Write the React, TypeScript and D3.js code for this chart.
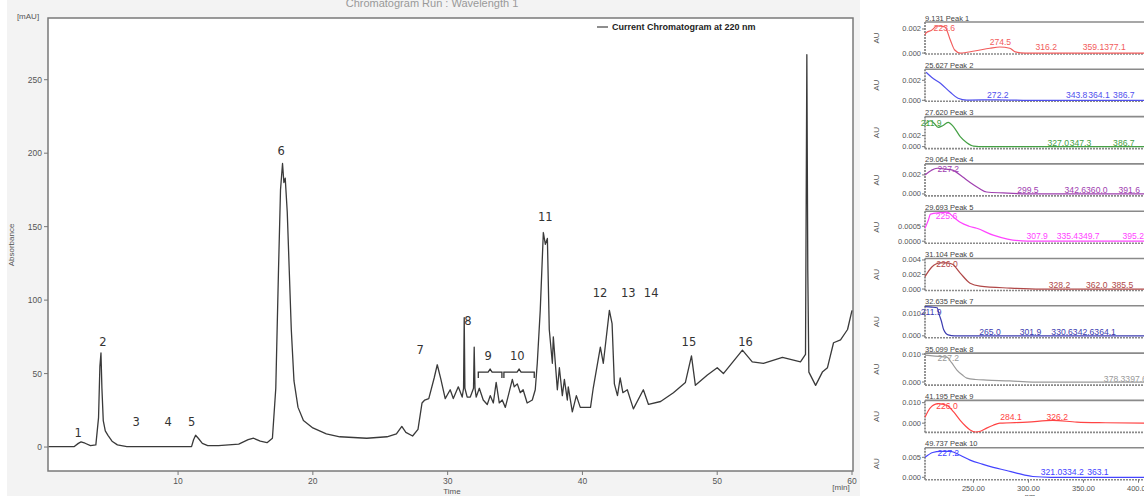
import React from 'react';
import * as d3 from 'd3';

// chromatogram at 220 nm, [time min, mAU]
const chromatogram: [number, number][] = [
  [0.4, 0.3], [2.3, 0.3], [2.6, 2.5], [2.8, 3.5], [3.1, 2.6], [3.5, 1], [3.9, 1.5],
  [4.1, 20], [4.2, 55], [4.28, 64], [4.35, 40], [4.45, 18], [4.6, 11], [4.8, 8],
  [5.1, 4], [5.5, 1.5], [6.2, 0.3], [11.0, 0.3], [11.15, 5], [11.3, 8], [11.5, 6],
  [11.8, 2.5], [12.2, 1], [13, 1], [14.5, 2], [15.2, 5], [15.6, 6], [16.1, 4],
  [16.6, 3], [17.0, 6], [17.25, 40], [17.45, 120], [17.6, 175], [17.75, 193],
  [17.85, 180], [17.95, 183], [18.1, 160], [18.25, 120], [18.4, 80], [18.6, 45],
  [18.9, 27], [19.3, 18], [20.0, 13], [21.0, 9], [22, 7], [24, 6], [25.5, 7],
  [26.2, 9], [26.6, 14], [26.9, 10], [27.4, 7.5], [27.8, 12], [28.1, 30], [28.3, 32],
  [28.6, 33], [29.0, 47], [29.23, 56], [29.5, 46], [29.82, 33], [30.19, 39],
  [30.42, 33], [30.79, 41], [31.08, 34], [31.18, 40], [31.23, 88], [31.28, 40],
  [31.45, 34], [31.68, 34], [31.92, 40], [31.97, 68], [32.03, 40], [32.12, 34],
  [32.35, 40], [32.64, 32], [32.94, 29], [33.16, 35], [33.39, 30], [33.6, 44],
  [33.83, 30], [34.05, 32], [34.28, 27], [34.5, 35], [34.8, 46], [34.94, 41],
  [35.17, 43], [35.39, 37], [35.6, 39], [35.9, 30], [36.28, 32], [36.5, 39],
  [36.65, 57], [36.87, 93], [37.1, 146], [37.25, 138], [37.4, 142], [37.54, 80],
  [37.77, 57], [37.84, 75], [38.14, 39], [38.29, 54], [38.51, 35], [38.66, 46],
  [38.88, 32], [38.95, 41], [39.25, 24], [39.55, 35], [39.84, 27], [40.6, 27],
  [40.8, 40], [41.33, 68], [41.55, 57], [42.0, 93], [42.2, 84], [42.37, 43],
  [42.6, 35], [42.8, 47], [43.0, 37], [43.33, 39], [43.78, 26], [44.52, 39],
  [44.9, 29], [45.8, 31], [46.75, 37], [47.64, 44], [48.09, 62], [48.38, 42],
  [49.27, 49], [50.0, 54], [50.46, 50], [51.87, 66], [52.6, 58], [53.43, 57],
  [54.84, 61], [56.18, 58], [56.55, 63], [56.65, 267], [56.72, 120], [56.8, 51],
  [57.3, 42], [57.8, 51], [58.18, 54], [58.63, 71], [59.15, 73], [59.67, 80], [60, 93],
];

const yTicks = [0, 50, 100, 150, 200, 250];
const xTicks = [10, 20, 30, 40, 50, 60];

// peak number labels, placed in data units
const peakNames = ['1', '2', '3', '4', '5', '6', '7', '8', '9', '10', '11', '12', '13', '14', '15', '16'];
const peakLabelTimes = [2.58, 4.43, 6.9, 9.26, 11.0, 17.65, 27.97, 31.5, 33.0, 35.17, 37.25, 41.3, 43.4, 45.1, 47.9, 52.1];
const peakLabelLevels = [7, 69, 14, 14, 14, 199, 63, 83, 59, 59, 154, 102, 102, 102, 69, 69];

// brace grouping peaks 9 and 10
const braceBounds = [32.2, 34.1, 36.5];
const braceLevel = 51;

// UV spectra of the peaks, [nm, AU]
const specTitles = ['9.131 Peak 1', '25.627 Peak 2', '27.620 Peak 3', '29.064 Peak 4', '29.693 Peak 5',
  '31.104 Peak 6', '32.635 Peak 7', '35.099 Peak 8', '41.195 Peak 9', '49.737 Peak 10'];
const specColors = ['#f25c5c', '#5050ee', '#44a044', '#a040b0', '#ff44ff',
  '#b04848', '#3c3cb0', '#9a9a9a', '#ff4444', '#4444ff'];
const specDomains: [number, number][] = [
  [-0.00008, 0.00258], [-0.0001, 0.0031], [-0.00036, 0.00545], [-0.00021, 0.00316], [-0.000067, 0.001],
  [-0.0002, 0.0042], [-0.0009, 0.0136], [-0.0011, 0.01036], [-0.0045, 0.0111], [-0.0006, 0.0074],
];
const specTicks = [[0, 0.002], [0, 0.002], [0, 0.002], [0, 0.002], [0, 0.0005],
  [0, 0.002, 0.004], [0, 0.01], [0, 0.01], [0, 0.01], [0, 0.005]];
const specTickFormats = ['.3f', '.3f', '.3f', '.3f', '.4f', '.3f', '.3f', '.3f', '.3f', '.3f'];

const spec1: [number, number][] = [[206, 0.0015], [207, 0.00167], [212, 0.0019], [217, 0.00225], [224, 0.00217], [229, 0.00108], [233, 0.00025], [238, 0], [251, 0.00017], [265, 0.0004], [274, 0.0005], [283, 0.0004], [288, 0.0001], [297, 0], [405, 0]];
const spec2: [number, number][] = [[207, 0.0028], [212, 0.0023], [220, 0.0017], [229, 0.0008], [236, 0.0002], [244, 0.00002], [272, 0.00005], [300, 0], [405, 0]];
const spec3: [number, number][] = [[206, 0.004], [211, 0.0047], [214, 0.0043], [218, 0.0035], [222, 0.0038], [227, 0.0044], [232, 0.0036], [238, 0.0018], [244, 0.0007], [250, 0.0001], [260, 0], [405, 0]];
const spec4: [number, number][] = [[206, 0.002], [212, 0.0025], [217, 0.0027], [225, 0.0026], [231, 0.0025], [240, 0.0018], [247, 0.0012], [255, 0.0006], [262, 0.0002], [277, 0.0001], [300, 0], [405, 0]];
const spec5: [number, number][] = [[206, 0.00043], [209, 0.0007], [211, 0.0009], [220, 0.00095], [226, 0.00097], [232, 0.0008], [238, 0.00063], [246, 0.0005], [253, 0.00043], [268, 0.0002], [281, 0.00007], [299, 0], [405, 0]];
const spec6: [number, number][] = [[206, 0.0017], [212, 0.003], [220, 0.0036], [226, 0.0036], [231, 0.0034], [238, 0.0022], [247, 0.0008], [256, 0.0004], [283, 0.00014], [311, 0], [405, 0]];
const spec7: [number, number][] = [[206, 0.0132], [212, 0.013], [217, 0.0127], [219, 0.0095], [221, 0.0065], [223, 0.0027], [227, 0.0004], [233, 0], [405, 0]];
const spec8: [number, number][] = [[206, 0.0096], [215, 0.0093], [226, 0.0089], [230, 0.007], [235, 0.0043], [240, 0.0025], [244, 0.0014], [252, 0.0009], [262, 0.0007], [283, 0.0004], [304, 0], [405, 0]];
const spec9: [number, number][] = [[206, 0.0029], [211, 0.0076], [218, 0.0095], [226, 0.0086], [232, 0.0055], [238, 0.0014], [243, -0.0015], [247, -0.0033], [252, -0.0043], [257, -0.0038], [262, -0.0024], [268, -0.001], [274, 0], [299, 0.0005], [322, 0.0014], [344, 0.0005], [370, 0.0002], [405, 0]];
const spec10: [number, number][] = [[206, 0.005], [213, 0.0062], [220, 0.0065], [229, 0.0065], [238, 0.0055], [247, 0.0043], [258, 0.0033], [268, 0.0025], [280, 0.0017], [290, 0.001], [304, 0.0002], [320, 0], [405, 0]];
const specSeries = [spec1, spec2, spec3, spec4, spec5, spec6, spec7, spec8, spec9, spec10];

// wavelength labels: [nm, AU at text baseline, text]
const specLabels: [number, number, string][][] = [
  [[223.6, 0.00183, '223.6'], [274.5, 0.00067, '274.5'], [316.2, 0.00025, '316.2'], [359.1, 0.00025, '359.1'], [377.1, 0.00025, '377.1']],
  [[272.2, 0.0002, '272.2'], [343.8, 0.0002, '343.8'], [364.1, 0.0002, '364.1'], [386.7, 0.0002, '386.7']],
  [[211.9, 0.0038, '211.9'], [327.0, 0.00018, '327.0'], [347.3, 0.00018, '347.3'], [386.7, 0.00018, '386.7']],
  [[227.2, 0.0023, '227.2'], [299.5, 0.0001, '299.5'], [342.6, 0.0001, '342.6'], [360.0, 0.0001, '360.0'], [391.6, 0.0001, '391.6']],
  [[225.6, 0.00073, '225.6'], [307.9, 0.000067, '307.9'], [335.4, 0.000067, '335.4'], [349.7, 0.000067, '349.7'], [395.2, 0.000067, '395.2']],
  [[226.0, 0.003, '226.0'], [328.2, 0.00014, '328.2'], [362.0, 0.00014, '362.0'], [385.5, 0.00014, '385.5']],
  [[211.9, 0.0095, '211.9'], [265.0, 0.00045, '265.0'], [301.9, 0.00045, '301.9'], [330.6, 0.00045, '330.6'], [342.6, 0.00045, '342.6'], [364.1, 0.00045, '364.1']],
  [[227.2, 0.0075, '227.2'], [378.3, 0, '378.3'], [397.6, 0, '397.6']],
  [[226.0, 0.0067, '226.0'], [284.1, 0.0014, '284.1'], [326.2, 0.0014, '326.2']],
  [[227.2, 0.0054, '227.2'], [321.0, 0.0006, '321.0'], [334.2, 0.0006, '334.2'], [363.1, 0.0006, '363.1']],
];
const nmTicks = [250, 300, 350, 400];

const FONT = 'Liberation Sans, Arial, sans-serif';
const LABEL_SIZE = 8.6;

// push labels right so they sit side by side instead of on top of each other
function layoutLabels(items: [number, number, string][], sx: (v: number) => number) {
  let end = -Infinity;
  return items.map(([w, v, txt]) => {
    const width = txt.length * LABEL_SIZE * 0.5;
    const start = Math.max(sx(w) - width / 2, end);
    end = start + width;
    return { start, v, txt, w };
  });
}

function App() {
  const left = 48, right = 852, top = 18, bottom = 471;
  const x = d3.scaleLinear().domain([0.35, 60]).range([left, right]);
  const y = d3.scaleLinear().domain([-16.3, 292]).range([bottom, top]);
  const line = d3.line<[number, number]>().x((d) => x(d[0])).y((d) => y(d[1]));

  const by = y(braceLevel);
  const bracePath = braceBounds.slice(0, -1).map((b, i) => {
    const x0 = x(b), x1 = x(braceBounds[i + 1]), xm = (x0 + x1) / 2;
    return `M${x0 + 1},${by + 6} L${x0 + 1},${by} L${xm - 2},${by} L${xm},${by - 3} L${xm + 2},${by} L${x1 - 1},${by} L${x1 - 1},${by + 6}`;
  }).join(' ');

  // spectra panels
  const panelLeft = 925, panelRight = 1144, panelH = 32, panelStep = 47.3, panelTop0 = 22;
  const nm = d3.scaleLinear().domain([206, 405]).range([panelLeft, panelRight]);

  return (
    <div style={{ position: 'absolute', left: 0, top: 0 }}>
      <svg width={1144} height={496} style={{ display: 'block', background: '#fff' }} fontFamily={FONT}>
        <rect x={7} y={0} width={853} height={496} fill="#f3f3f3" />
        <rect x={left} y={top} width={853 - left} height={bottom - top} fill="#fff" stroke="#7a7a7a" strokeWidth={1.5} />
        <text x={432} y={7} textAnchor="middle" fontSize={11} fill="#999">Chromatogram Run : Wavelength 1</text>

        {yTicks.map((t) => (
          <g key={t}>
            <line x1={left - 4} x2={left} y1={y(t)} y2={y(t)} stroke="#777" />
            <text x={left - 6} y={y(t) + 3} textAnchor="end" fontSize={8.5} fill="#555">{t}</text>
          </g>
        ))}
        {xTicks.map((t) => (
          <g key={t}>
            <line x1={x(t)} x2={x(t)} y1={bottom} y2={bottom + 4} stroke="#777" />
            <text x={x(t)} y={bottom + 13} textAnchor="middle" fontSize={8.5} fill="#555">{t}</text>
          </g>
        ))}
        <text x={28} y={19} textAnchor="middle" fontSize={8} fill="#555">[mAU]</text>
        <text transform="translate(14,245) rotate(-90)" textAnchor="middle" fontSize={8} fill="#555">Absorbance</text>
        <text x={452} y={494} textAnchor="middle" fontSize={8} fill="#555">Time</text>
        <text x={841} y={490} textAnchor="middle" fontSize={8} fill="#555">[min]</text>

        <line x1={597} x2={608} y1={27} y2={27} stroke="#444" strokeWidth={1.2} />
        <text x={612} y={30} fontSize={9} fontWeight="bold" fill="#222">Current Chromatogram at 220 nm</text>

        <path d={line(chromatogram) ?? ''} fill="none" stroke="#3a3a3a" strokeWidth={1.3} strokeLinejoin="round" />
        <path d={bracePath} fill="none" stroke="#333" strokeWidth={1.3} />

        {peakNames.map((p, i) => (
          <text key={p} x={x(peakLabelTimes[i])} y={y(peakLabelLevels[i])} textAnchor="middle"
            fontSize={11.5} fill="#333" fontFamily="DejaVu Sans, sans-serif">{p}</text>
        ))}

        {specSeries.map((s, i) => {
          const pt = panelTop0 + i * panelStep;
          const sy = d3.scaleLinear().domain(specDomains[i]).range([pt + panelH, pt]);
          const sline = d3.line<[number, number]>().x((d) => nm(d[0])).y((d) => sy(d[1])).curve(d3.curveMonotoneX);
          const fmt = d3.format(specTickFormats[i]);
          const labels = layoutLabels(specLabels[i], nm);
          return (
            <g key={i}>
              <rect x={panelLeft} y={pt} width={panelRight - panelLeft + 5} height={panelH} fill="#fff" />
              <line x1={panelLeft} x2={panelRight} y1={pt} y2={pt} stroke="#8a8a8a" strokeWidth={1.6} />
              <line x1={panelLeft} x2={panelRight} y1={pt + panelH} y2={pt + panelH} stroke="#8a8a8a" strokeWidth={1.6} strokeDasharray="2,1" />
              <line x1={panelLeft} x2={panelLeft} y1={pt} y2={pt + panelH} stroke="#8a8a8a" strokeWidth={1.8} strokeDasharray="2,1" />
              <text x={panelLeft} y={pt - 1.5} fontSize={7.5} fill="#444">{specTitles[i]}</text>
              <text transform={`translate(879,${pt + panelH / 2}) rotate(-90)`} textAnchor="middle" fontSize={8} fill="#555">AU</text>
              {specTicks[i].map((t) => (
                <g key={t}>
                  <line x1={panelLeft - 3} x2={panelLeft} y1={sy(t)} y2={sy(t)} stroke="#777" />
                  <text x={panelLeft - 4} y={sy(t) + 2.5} textAnchor="end" fontSize={7.5} fill="#555">{fmt(t)}</text>
                </g>
              ))}
              <path d={sline(s) ?? ''} fill="none" stroke={specColors[i]} strokeWidth={1.2} />
              {labels.map((l) => (
                <text key={l.txt + l.w} x={l.start} y={sy(l.v)} fontSize={LABEL_SIZE} fill={specColors[i]}>{l.txt}</text>
              ))}
            </g>
          );
        })}
        {nmTicks.map((t) => {
          const pb = panelTop0 + 9 * panelStep + panelH;
          return (
            <g key={t}>
              <line x1={nm(t)} x2={nm(t)} y1={pb} y2={pb + 3} stroke="#777" />
              <text x={nm(t)} y={pb + 11} textAnchor="middle" fontSize={7.5} fill="#555">{t.toFixed(2)}</text>
            </g>
          );
        })}
        <text x={1030} y={499} textAnchor="middle" fontSize={7.5} fill="#555">nm</text>
      </svg>
    </div>
  );
}

export default App;
